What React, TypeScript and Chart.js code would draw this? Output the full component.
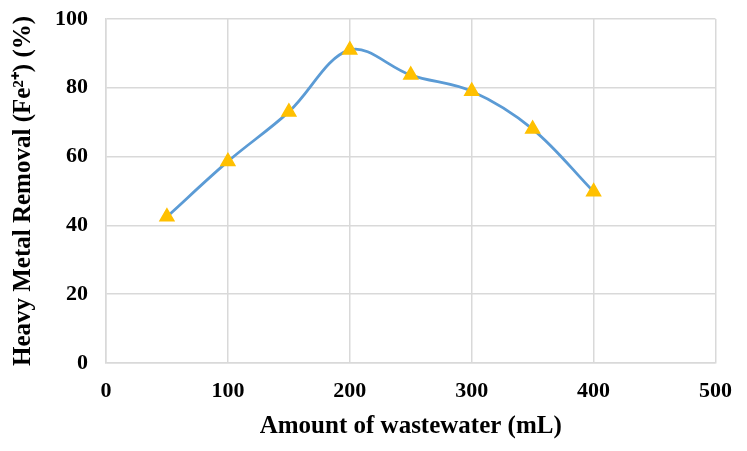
import React, { useEffect, useRef } from "react";
import Chart from "chart.js/auto";

const wastewaterAmounts = [50, 100, 150, 200, 250, 300, 350, 400];
const removalPercent = [42.5, 58.6, 73, 91, 83.7, 79, 68, 49.8];

const X_TITLE = "Amount of wastewater (mL)";
const Y_TITLE = "Heavy Metal Removal (Fe²⁺) (%)";

const GRID = "#d9d9d9";
const LINE_BLUE = "#5b9bd5";
const MARKER_GOLD = "#ffc000";
const FONT = "'Liberation Serif', 'Times New Roman', serif";

const App: React.FC = () => {
  const canvasRef = useRef<HTMLCanvasElement>(null);
  const chartRef = useRef<Chart | null>(null);

  useEffect(() => {
    document.body.style.margin = "0";
    if (!canvasRef.current) return;
    const ctx = canvasRef.current.getContext("2d");
    if (!ctx) return;

    chartRef.current = new Chart(ctx, {
      type: "line",
      data: {
        datasets: [
          {
            data: wastewaterAmounts.map((x, i) => ({ x, y: removalPercent[i] })),
            borderColor: LINE_BLUE,
            borderWidth: 2.8,
            tension: 0.35,
            pointStyle: "triangle",
            pointRadius: 8,
            pointBackgroundColor: MARKER_GOLD,
            pointBorderColor: MARKER_GOLD,
            pointBorderWidth: 1.5,
            fill: false,
          },
        ],
      },
      options: {
        animation: false,
        responsive: true,
        maintainAspectRatio: false,
        layout: { padding: { top: 19, right: 31, bottom: 0, left: 0 } },
        plugins: {
          legend: { display: false },
          tooltip: { enabled: false },
        },
        scales: {
          x: {
            type: "linear",
            min: 0,
            max: 500,
            afterFit: (scale) => {
              scale.height = 88;
            },
            ticks: {
              stepSize: 100,
              padding: 15,
              color: "#000",
              font: { family: FONT, size: 22, weight: "bold" },
            },
            grid: { color: GRID, lineWidth: 1.5, drawTicks: false },
            border: { color: GRID, width: 1.5 },
            title: {
              display: true,
              text: X_TITLE,
              color: "#000",
              padding: { top: 0, bottom: 9 },
              font: { family: FONT, size: 25, weight: "bold" },
            },
          },
          y: {
            min: 0,
            max: 100,
            afterFit: (scale) => {
              scale.width = 106;
            },
            ticks: {
              stepSize: 20,
              padding: 0,
              color: "#000",
              font: { family: FONT, size: 22, weight: "bold" },
            },
            grid: {
              color: GRID,
              lineWidth: 1.5,
              drawTicks: true,
              tickLength: 18,
              tickColor: "rgba(0,0,0,0)",
            },
            border: { color: GRID, width: 1.5 },
            title: {
              display: true,
              text: Y_TITLE,
              color: "#000",
              padding: { top: 9, bottom: 0 },
              font: { family: FONT, size: 25, weight: "bold" },
            },
          },
        },
      },
    });

    return () => {
      if (chartRef.current) {
        chartRef.current.destroy();
        chartRef.current = null;
      }
    };
  }, []);

  return (
    <div style={{ width: "747px", height: "451px", position: "relative" }}>
      <canvas ref={canvasRef}></canvas>
    </div>
  );
};

export default App;
